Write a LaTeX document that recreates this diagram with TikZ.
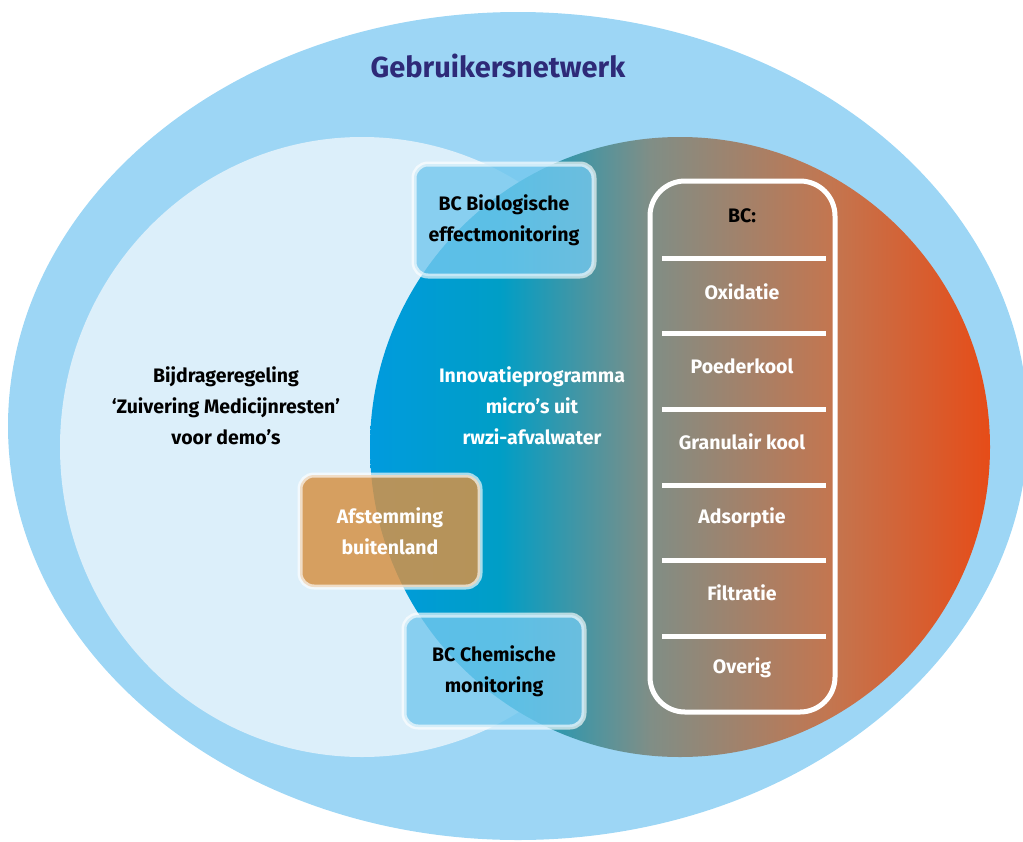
\documentclass[tikz,border=0pt]{standalone}
\usepackage{fontspec}
\setmainfont{Fira Sans}
\definecolor{netwerk}{RGB}{157,214,245}
\definecolor{regeling}{RGB}{220,239,250}
\definecolor{titel}{RGB}{46,42,120}
\definecolor{bcblauw}{RGB}{115,200,238}
\definecolor{oranje}{RGB}{214,146,70}
\definecolor{innovA}{RGB}{0,155,222}
\definecolor{innovB}{RGB}{0,158,198}
\definecolor{innovC}{RGB}{128,142,134}
\definecolor{innovD}{RGB}{195,118,80}
\definecolor{innovE}{RGB}{230,76,24}
\pgfdeclarehorizontalshading{innov}{100bp}{color(0bp)=(innovA); color(25bp)=(innovA);
  color(35.5bp)=(innovB); color(47.6bp)=(innovC); color(62.1bp)=(innovD);
  color(75bp)=(innovE); color(100bp)=(innovE)}
\newcommand{\tekst}{\fontsize{19.5}{31}\selectfont\bfseries}
\tikzset{
  bcbox/.style={rounded corners=14pt, draw=white, draw opacity=0.65, line width=5pt,
    fill=bcblauw, fill opacity=0.8, text opacity=1, minimum width=180pt,
    minimum height=112pt, align=center, font=\tekst},
  bclijst/.style={text=white, font=\tekst}
}

\begin{document}
\begin{tikzpicture}[x=1pt, y=-1pt]
\useasboundingbox (0,0) rectangle (1023,841);
\clip (0,0) rectangle (1023,841);
\fill[netwerk] (518,426) ellipse [x radius=510, y radius=414];
\fill[regeling] (362,447) ellipse [x radius=302, y radius=310];
\shade[shading=innov] (680,447) circle [radius=310];
\node[text=titel, font=\fontsize{29}{34}\selectfont\bfseries] (titel) at (498,66) {Gebruikersnetwerk};
\node[align=center, font=\tekst] (bijdrage) at (226,406)
  {Bijdrageregeling\\‘Zuivering Medicijnresten’\\voor demo’s};
\node[align=center, text=white, font=\tekst] (innovatie) at (532,406)
  {Innovatieprogramma\\micro’s uit\\rwzi-afvalwater};
\node[bcbox] (bio) at (504,220) {BC Biologische\\effectmonitoring};
\node[bcbox, fill=oranje, fill opacity=0.85, text=white] (buitenland) at (390,531) {Afstemming\\buitenland};
\node[bcbox] (chemisch) at (494,671) {BC Chemische\\monitoring};
% BC kolom
\draw[white, line width=5pt, rounded corners=35pt] (650,181) rectangle (835,712);
\foreach \y in {258,333,409,485,560,636}{
  \draw[white, line width=5pt] (662,\y)--(826,\y);
}
\node[font=\tekst] (bc) at (742,216) {BC:};
\foreach \y/\t in {292/Oxidatie,366/Poederkool,442/Granulair kool,518/Adsorptie,593/Filtratie,668/Overig}{
  \node[bclijst] (bc\y) at (742,\y) {\t};
}
\end{tikzpicture}
\end{document}
